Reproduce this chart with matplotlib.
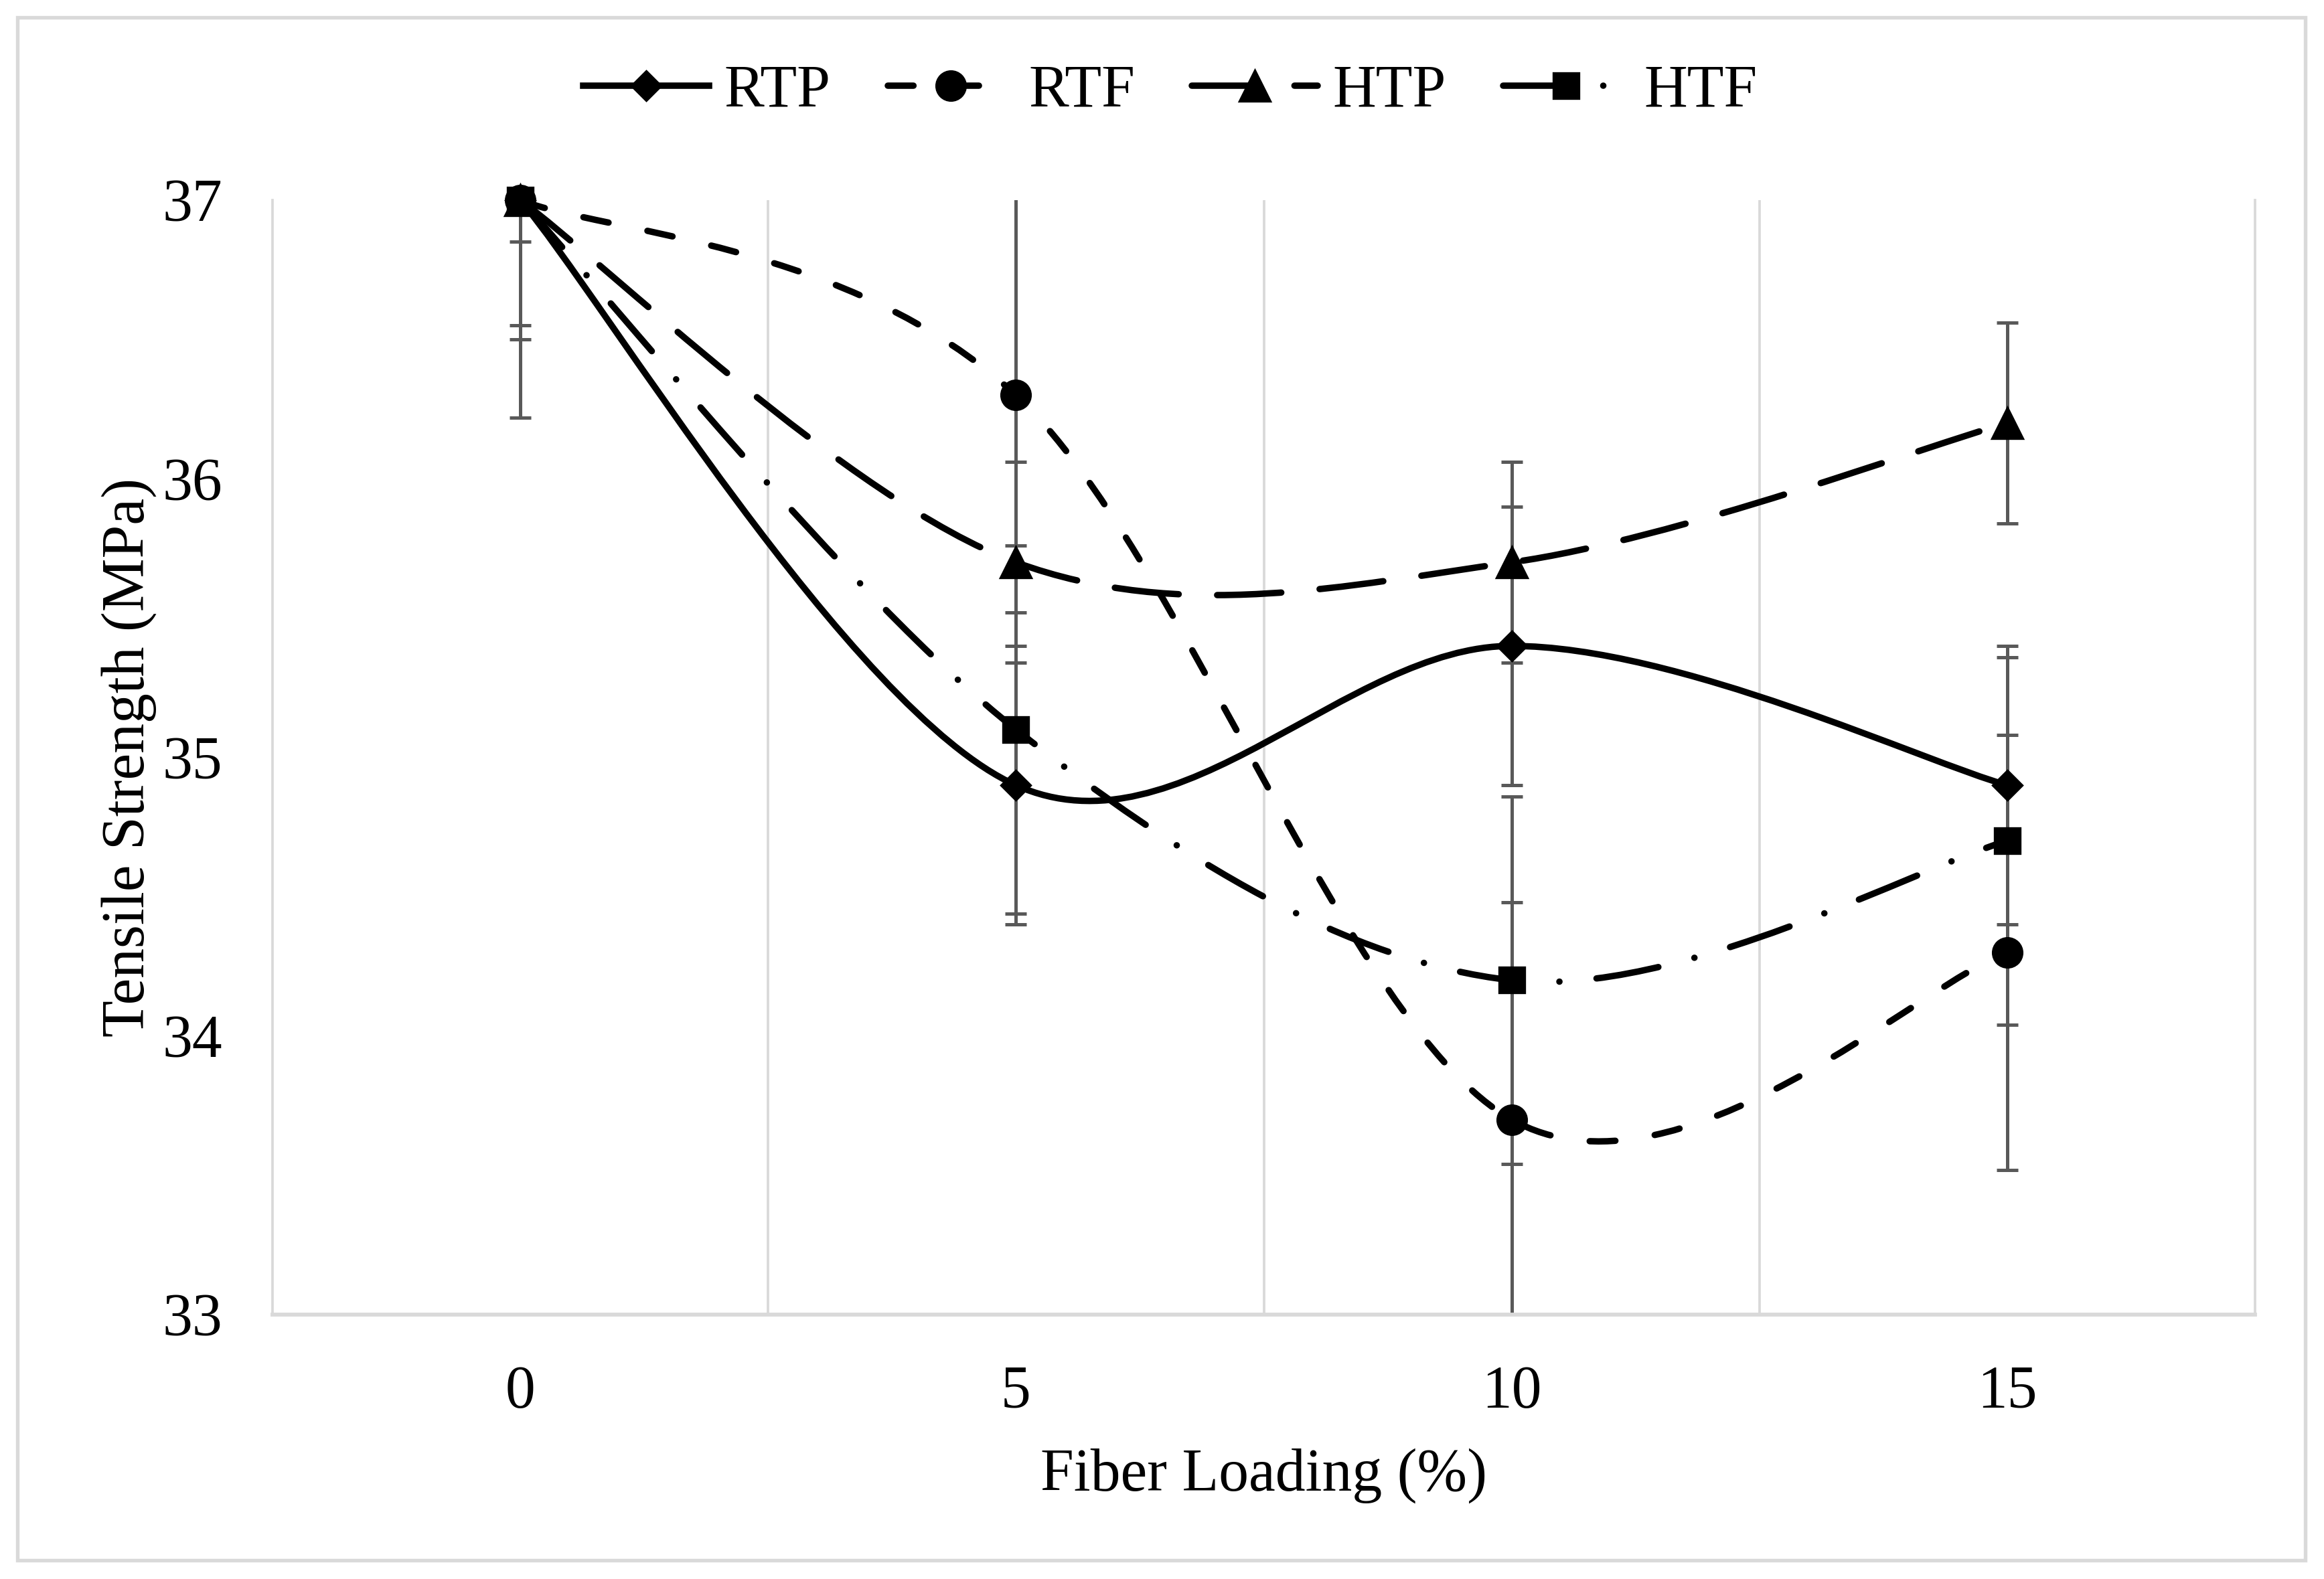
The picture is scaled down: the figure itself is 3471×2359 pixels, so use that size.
import numpy as np
import matplotlib
matplotlib.use("Agg")
import matplotlib.pyplot as plt
from matplotlib.path import Path
from matplotlib.patches import PathPatch, Rectangle
from matplotlib.lines import Line2D

plt.rcParams['font.family'] = ['Liberation Serif', 'DejaVu Serif']

# dados
carga = ['0', '5', '10', '15']
rtp = [37.0, 34.9, 35.4, 34.9]
rtf = [37.0, 36.3, 33.7, 34.3]
htp = [37.0, 35.7, 35.7, 36.2]
htf = [37.0, 35.1, 34.2, 34.7]

err_rtp = [0.50, 0.50, 0.50, 0.50]
err_rtf = [0.78, 0.78, 0.78, 0.78]
err_htp = [0.45, 0.36, 0.36, 0.36]
err_htf = [0.15, 0.66, 0.66, 0.66]

nomes = ['RTP', 'RTF', 'HTP', 'HTF']


def curva_suave(x, y):
    # linha suavizada estilo Excel (bezier tipo catmull-rom)
    pts = np.column_stack([x, y]).astype(float)
    n = len(pts)
    verts = [pts[0]]
    codes = [Path.MOVETO]
    for i in range(n - 1):
        p0 = pts[max(i - 1, 0)]
        p1 = pts[i]
        p2 = pts[i + 1]
        p3 = pts[min(i + 2, n - 1)]
        c1 = p1 + (p2 - p0) / 6
        c2 = p2 - (p3 - p1) / 6
        verts += [c1, c2, p2]
        codes += [Path.CURVE4] * 3
    return Path(verts, codes)


fs = 21.5
lw = 2.3
estilos = [
    dict(ls='-', marker='D', ms=7.5),
    dict(ls=(0, (4.0, 6.2)), marker='o', ms=10.5),
    dict(ls=(0, (10.0, 6.0)), marker='^', ms=11),
    dict(ls=(0, (9.8, 5.8, 0.01, 5.8)), marker='s', ms=9),
]
series = [rtp, rtf, htp, htf]
erros = [err_rtp, err_rtf, err_htp, err_htf]

fig = plt.figure(figsize=(3471 / 300, 2359 / 300), dpi=300)
ax = fig.add_axes([407 / 3471, 1 - 1964 / 2359, (3368 - 407) / 3471, (1964 - 299) / 2359])

x = np.arange(len(carga))

for y, e in zip(series, erros):
    ax.errorbar(x, y, yerr=e, fmt='none', ecolor='#595959', elinewidth=1.2,
                capsize=3.8, capthick=1.2, zorder=2)

for y, st in zip(series, estilos):
    patch = PathPatch(curva_suave(x, y), fill=False, edgecolor='black', lw=lw,
                      linestyle=st['ls'], capstyle='round', joinstyle='round', zorder=3)
    ax.add_patch(patch)
    ax.plot(x, y, linestyle='none', marker=st['marker'], ms=st['ms'], color='black',
            mec='black', mew=0.8, clip_on=False, zorder=4)

ax.set_xlim(-0.5, 3.5)
ax.set_ylim(33, 37)
ax.set_xticks(x)
ax.set_xticklabels(carga)
ax.set_yticks([33, 34, 35, 36, 37])
ax.set_xticks([0.5, 1.5, 2.5], minor=True)
ax.grid(which='minor', axis='x', color='#d9d9d9', lw=0.9)
ax.tick_params(axis='both', which='both', length=0, labelsize=fs, pad=18)

ax.spines['top'].set_visible(False)
for s in ['left', 'right']:
    ax.spines[s].set_color('#d9d9d9')
    ax.spines[s].set_linewidth(0.9)
ax.spines['bottom'].set_color('#d9d9d9')
ax.spines['bottom'].set_linewidth(1.4)

ax.set_xlabel('Fiber Loading (%)', fontsize=fs, labelpad=10)
ax.set_ylabel('Tensile Strength (MPa)', fontsize=fs, labelpad=2)

handles = [Line2D([], [], color='black', lw=lw, linestyle=st['ls'], marker=st['marker'],
                  ms=st['ms'], mew=0.8, dash_capstyle='round') for st in estilos]
fig.legend(handles, nomes, loc='center', bbox_to_anchor=(0.5036, 1 - 137 / 2359), ncol=4,
           frameon=False, fontsize=fs, handlelength=2.1, handletextpad=0.25,
           columnspacing=0.95, numpoints=1)

borda = Rectangle((26 / 3471, 1 - 2331 / 2359), (3443 - 26) / 3471, (2331 - 26) / 2359,
                  transform=fig.transFigure, fill=False, ec='#d9d9d9', lw=1.3)
fig.patches.append(borda)

fig.savefig('out.png', dpi=300, facecolor='white')
